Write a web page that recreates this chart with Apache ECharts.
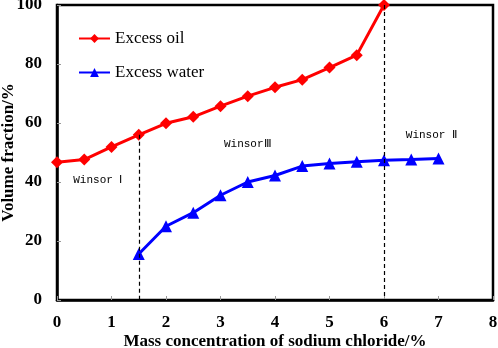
<!DOCTYPE html>
<html>
<head>
<meta charset="utf-8">
<script src="https://cdn.jsdelivr.net/npm/echarts@6/dist/echarts.min.js"></script>
<style>html,body{margin:0;padding:0;background:#fff}#chart{width:498px;height:348px}</style>
</head>
<body>
<div id="chart"></div>
<script>
var concentration = [0, 0.5, 1, 1.5, 2, 2.5, 3, 3.5, 4, 4.5, 5, 5.5, 6, 6.5, 7];
var excessOil = [46.7, 47.6, 51.9, 56, 59.9, 62.1, 65.7, 69.1, 72.1, 74.7, 78.8, 83, 100, null, null];
var excessWater = [null, null, null, 15.6, 25, 29.6, 35.5, 40, 42.2, 45.4, 46.3, 46.9, 47.4, 47.6, 48];
var phaseLines = [1.5, 6];
var phaseLabels = [
  {name: 'Winsor Ⅰ', x: 0.75, y: 40.5},
  {name: 'WinsorⅢ', x: 3.5, y: 53},
  {name: 'Winsor Ⅱ', x: 6.87, y: 55.8}
];

var chart = echarts.init(document.getElementById('chart'));
var serif = 'Liberation Serif';

function pairs(arr) {
  var out = [];
  for (var i = 0; i < concentration.length; i++) {
    if (arr[i] != null) out.push([concentration[i], arr[i]]);
  }
  return out;
}

var option = {
  backgroundColor: '#fff',
  animation: false,
  grid: {
    left: 57, right: 5, top: 5, bottom: 48, containLabel: false, outerBoundsMode: 'none',
    show: true, borderColor: '#000', borderWidth: 2.5
  },
  legend: {
    orient: 'vertical', left: 78, top: 30, padding: 0, itemWidth: 31, itemHeight: 11, itemGap: 17,
    textStyle: {fontFamily: serif, fontSize: 17, color: '#000'},
    data: ['Excess oil', 'Excess water']
  },
  xAxis: {
    type: 'value', min: 0, max: 8, interval: 1,
    name: 'Mass concentration of sodium chloride/%', nameLocation: 'middle', nameGap: 33,
    nameMoveOverlap: false,
    nameTextStyle: {fontFamily: serif, fontSize: 17, fontWeight: 'bold', color: '#000'},
    axisLine: {lineStyle: {color: '#000', width: 2.5}},
    axisTick: {inside: true, length: 4, lineStyle: {color: '#999'}},
    axisLabel: {fontFamily: serif, fontSize: 17, fontWeight: 'bold', color: '#000', margin: 14},
    splitLine: {show: false}
  },
  yAxis: {
    type: 'value', min: 0, max: 100, interval: 20,
    name: 'Volume fraction/%', nameLocation: 'middle', nameGap: 40,
    nameMoveOverlap: false,
    nameTextStyle: {fontFamily: serif, fontSize: 17, fontWeight: 'bold', color: '#000'},
    axisLine: {lineStyle: {color: '#000', width: 2.5}},
    axisTick: {inside: true, length: 4, lineStyle: {color: '#999'}},
    axisLabel: {fontFamily: serif, fontSize: 17, fontWeight: 'bold', color: '#000', margin: 15},
    splitLine: {show: false}
  },
  series: [
    {
      name: 'Excess oil', type: 'line', data: pairs(excessOil),
      symbol: 'diamond', symbolSize: 12,
      itemStyle: {color: '#ff0000'}, lineStyle: {color: '#ff0000', width: 3},
      markLine: {
        silent: true, symbol: 'none', label: {show: false},
        lineStyle: {color: '#000', type: [4, 3], width: 1.2},
        data: [
          [{coord: [phaseLines[0], excessOil[3]]}, {coord: [phaseLines[0], 0]}],
          [{coord: [phaseLines[1], 100]}, {coord: [phaseLines[1], 0]}]
        ]
      },
      z: 3
    },
    {
      name: 'Excess water', type: 'line', data: pairs(excessWater),
      symbol: 'triangle', symbolSize: 12,
      itemStyle: {color: '#0000ff'}, lineStyle: {color: '#0000ff', width: 3},
      markPoint: {
        silent: true, symbol: 'circle', symbolSize: 0,
        label: {show: true, position: 'inside', formatter: '{b}', fontFamily: 'Liberation Mono', fontSize: 11, color: '#000'},
        data: phaseLabels.map(function (p) { return {name: p.name, coord: [p.x, p.y]}; })
      },
      z: 3
    }
  ]
};
chart.setOption(option);
</script>
</body>
</html>
